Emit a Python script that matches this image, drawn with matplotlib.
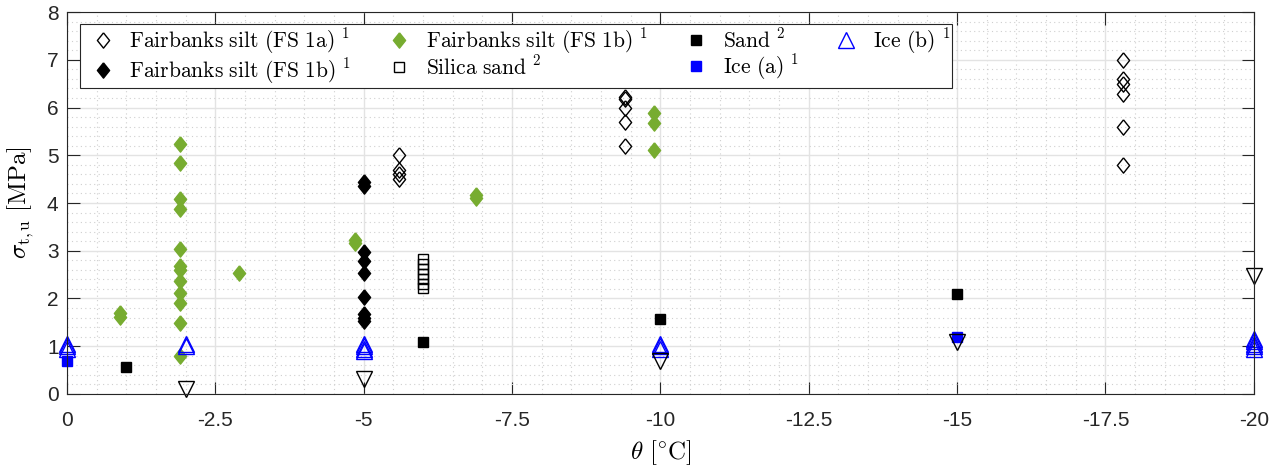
import matplotlib
matplotlib.use('Agg')
import matplotlib.pyplot as plt
import numpy as np
from matplotlib.ticker import MultipleLocator

plt.rcParams['font.family'] = ['Liberation Sans', 'DejaVu Sans']
plt.rcParams['mathtext.fontset'] = 'cm'
plt.rcParams['axes.unicode_minus'] = False

# data (theta in degC, strength in MPa)
fs1a_T = [-5.6, -5.6, -5.6, -5.6, -9.4, -9.4, -9.4, -9.4, -9.4,
          -17.8, -17.8, -17.8, -17.8, -17.8, -17.8]
fs1a_s = [5.0, 4.7, 4.6, 4.5, 6.22, 6.18, 6.0, 5.7, 5.2,
          7.0, 6.6, 6.5, 6.28, 5.6, 4.8]

fs1b_T = [-5] * 9
fs1b_s = [4.45, 4.35, 2.98, 2.78, 2.54, 2.04, 1.67, 1.6, 1.53]

fs1b_g_T = [-0.9, -0.9, -1.9, -1.9, -1.9, -1.9, -1.9, -1.9, -1.9, -1.9, -1.9,
            -1.9, -1.9, -1.9, -2.9, -4.85, -4.85, -6.9, -6.9, -9.9, -9.9, -9.9]
fs1b_g_s = [1.7, 1.62, 5.24, 4.84, 4.09, 3.88, 3.04, 2.68, 2.6, 2.37, 2.12,
            1.91, 1.48, 0.79, 2.54, 3.22, 3.16, 4.16, 4.11, 5.88, 5.67, 5.1]

silica_T = [-6] * 7
silica_s = [2.82, 2.72, 2.62, 2.52, 2.41, 2.31, 2.21]

sand_T = [-1, -6, -10, -15]
sand_s = [0.57, 1.08, 1.57, 2.1]

icea_T = [0, -15]
icea_s = [0.7, 1.2]

iceb_T = [0, 0, 0, -2, -2, -5, -5, -5, -5, -10, -10, -10, -20, -20, -20, -20, -20]
iceb_s = [1.05, 1.0, 0.95, 1.05, 1.0, 1.05, 1.0, 0.95, 0.9, 1.05, 1.0, 0.95,
          1.15, 1.1, 1.05, 1.0, 0.95]

low_T = [-2, -5, -10, -15, -20]
low_s = [0.1, 0.31, 0.7, 1.09, 2.47]

green = '#77AC30'
diam = [(0, 1), (0.8, 0), (0, -1), (-0.8, 0), (0, 1)]

fig = plt.figure(figsize=(12.86, 4.71), dpi=100)
ax = fig.add_axes([0.052, 0.1635, 0.923, 0.811])

kw = dict(ls='none', mew=1, clip_on=False)
ax.plot(fs1a_T, fs1a_s, marker=diam, ms=11, mfc='none', mec='k',
        label=r'$\mathrm{Fairbanks\ silt\ (FS\ 1a)}\ ^1$', **kw)
ax.plot(fs1b_T, fs1b_s, marker=diam, ms=11, mfc='k', mec='k',
        label=r'$\mathrm{Fairbanks\ silt\ (FS\ 1b)}\ ^1$', **kw)
ax.plot(fs1b_g_T, fs1b_g_s, marker=diam, ms=11, mfc=green, mec=green,
        label=r'$\mathrm{Fairbanks\ silt\ (FS\ 1b)}\ ^1$', **kw)
ax.plot(silica_T, silica_s, marker='s', ms=6.5, mfc='none', mec='k',
        label=r'$\mathrm{Silica\ sand}\ ^2$', **kw)
ax.plot(sand_T, sand_s, marker='s', ms=7, mfc='k', mec='k',
        label=r'$\mathrm{Sand}\ ^2$', **kw)
ax.plot(icea_T, icea_s, marker='s', ms=7, mfc='b', mec='b',
        label=r'$\mathrm{Ice\ (a)}\ ^1$', **kw)
ax.plot(iceb_T, iceb_s, marker='^', ms=11, mfc='none', mec='b',
        label=r'$\mathrm{Ice\ (b)}\ ^1$', **kw)
ax.plot(low_T, low_s, marker='v', ms=11, mfc='none', mec='k', **kw)

ax.set_xlim(0, -20)
ax.set_ylim(0, 8)
ax.xaxis.set_minor_locator(MultipleLocator(0.5))
ax.yaxis.set_major_locator(MultipleLocator(1))
ax.yaxis.set_minor_locator(MultipleLocator(0.2))
ax.set_xticks(np.arange(0, -20.1, -2.5))
ax.set_xticklabels(['0', '-2.5', '-5', '-7.5', '-10', '-12.5', '-15', '-17.5', '-20'])

ax.grid(which='major', color='#e3e3e3', lw=1, ls='-')
ax.grid(which='minor', color='#cfcfcf', lw=0.8, ls=(0, (1, 3)))
ax.set_axisbelow(True)
ax.tick_params(which='both', direction='in', top=True, right=True,
               labelsize=15, colors='#262626')
ax.tick_params(axis='x', pad=12)
ax.tick_params(axis='y', pad=6)
ax.tick_params(which='major', length=9, width=0.8)
ax.tick_params(which='minor', length=0)
for s in ax.spines.values():
    s.set_color('#262626')
    s.set_linewidth(0.8)

ax.set_xlabel(r'$\theta\ [^{\circ}\mathrm{C}]$', fontsize=18, labelpad=6)
ax.set_ylabel(r'$\sigma_{\mathrm{t,u}}\ [\mathrm{MPa}]$', fontsize=18, labelpad=8)

leg = ax.legend(ncol=4, loc='upper left', bbox_to_anchor=(0.011, 0.968),
                fontsize=15.5, fancybox=False, framealpha=1, edgecolor='#262626',
                borderaxespad=0, handlelength=1.9, handletextpad=0.3,
                columnspacing=1.25, borderpad=0.1, labelspacing=0.0,
                numpoints=1)
leg.get_frame().set_linewidth(0.8)

fig.savefig('out.png', dpi=100)
